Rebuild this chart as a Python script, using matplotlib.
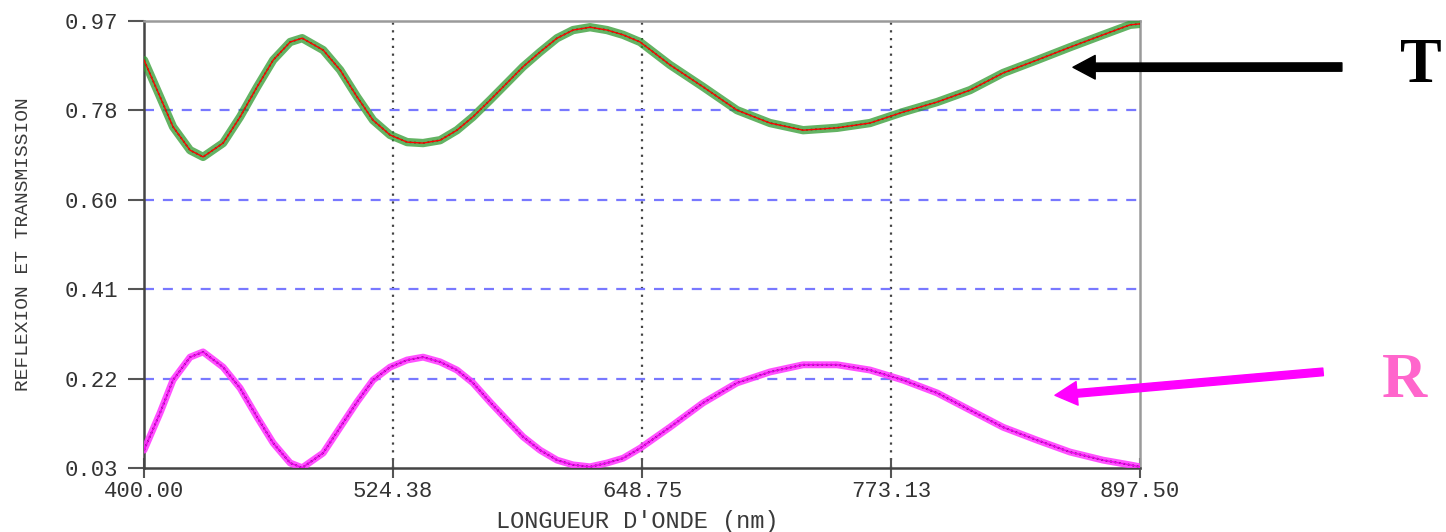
import numpy as np
import matplotlib.pyplot as plt

# wavelength (nm) and values
wl = [400.0, 408.0, 414.5, 423.0, 429.5, 439.5, 448.0, 456.5, 464.5, 473.0,
      479.0, 489.5, 498.0, 506.4, 514.4, 522.9, 531.4, 539.4, 547.9, 556.3,
      564.3, 572.8, 581.3, 589.3, 597.8, 606.3, 614.3, 622.8, 631.3, 639.3,
      647.8, 662.7, 679.2, 696.2, 712.7, 729.2, 746.2, 762.6, 779.1, 796.1,
      812.6, 829.1, 846.0, 862.5, 879.0, 892.5, 897.5]

trans = [0.888, 0.811, 0.748, 0.699, 0.685, 0.714, 0.769, 0.832, 0.888, 0.926,
         0.934, 0.909, 0.867, 0.811, 0.762, 0.731, 0.716, 0.714, 0.720, 0.741,
         0.769, 0.804, 0.840, 0.874, 0.905, 0.934, 0.951, 0.957, 0.951, 0.941,
         0.926, 0.878, 0.832, 0.783, 0.756, 0.741, 0.746, 0.756, 0.779, 0.800,
         0.825, 0.861, 0.888, 0.915, 0.941, 0.962, 0.964]

refl = [0.070, 0.148, 0.217, 0.265, 0.276, 0.244, 0.200, 0.139, 0.085, 0.043,
        0.033, 0.064, 0.118, 0.171, 0.217, 0.244, 0.259, 0.265, 0.255, 0.238,
        0.211, 0.171, 0.133, 0.098, 0.070, 0.049, 0.039, 0.035, 0.043, 0.053,
        0.074, 0.118, 0.169, 0.211, 0.234, 0.249, 0.249, 0.238, 0.217, 0.190,
        0.154, 0.118, 0.091, 0.066, 0.049, 0.039, 0.035]

xticks = [400.00, 524.38, 648.75, 773.13, 897.50]
xlabels = ['400.00', '524.38', '648.75', '773.13', '897.50']
yticks = list(np.linspace(0.0325, 0.97, 6))
ylabels = ['0.03', '0.22', '0.41', '0.60', '0.78', '0.97']

fig = plt.figure(figsize=(14.46, 5.32), dpi=100)
ax = fig.add_axes([0.0996, 0.1203, 0.6888, 0.8402])

# grid
for x in xticks[1:-1]:
    ax.axvline(x, color='#444444', lw=1.6, ls=(0, (1, 2.5)), zorder=1)
for y in yticks[1:-1]:
    ax.axhline(y, color='#7878ff', lw=1.6, ls=(0, (4.5, 4)), zorder=1)

# T : green circles + red line
ax.plot(wl, trans, color='#2f9a2f', lw=6, alpha=0.75, solid_capstyle='round',
        solid_joinstyle='round', zorder=3)
ax.plot(wl, trans, color='#1a6e1a', lw=1.3, ls=(0, (1, 1.5)), zorder=4)
ax.plot(wl, trans, color='red', lw=1.0, solid_joinstyle='round', zorder=5)
# R : magenta + black crosses
ax.plot(wl, refl, color='#ff33ff', lw=5, alpha=0.85, solid_capstyle='round',
        solid_joinstyle='round', zorder=3)
ax.plot(wl, refl, color='#222222', lw=1.3, ls=(0, (1, 1.5)), zorder=4)
ax.plot(wl, refl, color='#ee00ee', lw=1.0, solid_joinstyle='round', zorder=5)

ax.set_xlim(400, 897.5)
ax.set_ylim(yticks[0], yticks[-1])
ax.set_xticks(xticks)
ax.set_xticklabels(xlabels)
ax.set_yticks(yticks)
ax.set_yticklabels(ylabels)

mono = 'Liberation Mono'
ax.tick_params(axis='y', direction='out', length=11.5, width=1.5, color='#555555',
               pad=7, labelsize=16, labelcolor='#333333')
ax.tick_params(axis='x', direction='inout', length=14, width=1.5, color='#555555',
               pad=2, labelsize=16, labelcolor='#333333')
for lab in ax.get_xticklabels() + ax.get_yticklabels():
    lab.set_family(mono)

ax.spines['left'].set_color('#444444')
ax.spines['bottom'].set_color('#444444')
ax.spines['top'].set_color('#9a9a9a')
ax.spines['right'].set_color('#9a9a9a')
for s in ax.spines.values():
    s.set_linewidth(1.8)

ax.set_ylabel('REFLEXION ET TRANSMISSION', family=mono, fontsize=14, color='#3a3a3a')
ax.yaxis.set_label_coords(-0.112, 0.5)
ax.set_xlabel("LONGUEUR D'ONDE (nm)", family=mono, fontsize=17, color='#3a3a3a')
ax.xaxis.set_label_coords(0.495, -0.093)

# annotations
ax.annotate('', xy=(864, 0.873), xycoords='data', xytext=(0.928, 0.874),
            textcoords='figure fraction', annotation_clip=False,
            arrowprops=dict(width=6, headwidth=17, headlength=16, color='black', shrink=0))
ax.annotate('', xy=(855, 0.185), xycoords='data', xytext=(0.915, 0.301),
            textcoords='figure fraction', annotation_clip=False,
            arrowprops=dict(width=5.5, headwidth=17, headlength=16, color='#ff00ff', shrink=0))
fig.text(0.9825, 0.874, 'T', family='Liberation Serif', fontweight='bold',
         fontsize=45, color='black', ha='center', va='center')
fig.text(0.971, 0.282, 'R', family='Liberation Serif', fontweight='bold',
         fontsize=45, color='#ff66cc', ha='center', va='center')

fig.savefig('out.png', dpi=100)
